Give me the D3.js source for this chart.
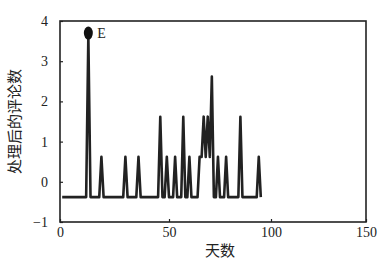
<!DOCTYPE html>
<html>
<head>
<meta charset="utf-8">
<script src="https://cdnjs.cloudflare.com/ajax/libs/d3/7.8.5/d3.min.js"></script>
<style>
	body { margin: 0; background: #fff; }
	text { font-family: "Liberation Serif", "DejaVu Serif", serif; fill: #222; }
	.cjk { font-family: "Noto Sans CJK SC", sans-serif; }
</style>
</head>
<body>
<div id="chart"></div>
<script>
// days 1..95, processed comment counts
var days = d3.range(1, 96);
var counts = [
	-0.38, -0.38, -0.38, -0.38, -0.38, -0.38, -0.38, -0.38, -0.38, -0.38, // 1-10
	-0.38, -0.38, 3.62, -0.38, -0.38, -0.38, -0.38, -0.38, 0.62, -0.38,   // 11-20
	-0.38, -0.38, -0.38, -0.38, -0.38, -0.38, -0.38, -0.38, -0.38, 0.62,  // 21-30
	-0.38, -0.38, -0.38, -0.38, -0.38, 0.62, -0.38, -0.38, -0.38, -0.38,  // 31-40
	-0.38, -0.38, -0.38, -0.38, -0.38, 1.62, -0.38, -0.38, 0.62, -0.38,   // 41-50
	-0.38, -0.38, 0.62, -0.38, -0.38, -0.38, 1.62, -0.38, -0.38, 0.62,    // 51-60
	-0.38, -0.38, -0.38, -0.38, 0.62, 0.62, 1.62, 0.62, 1.62, 0.62,       // 61-70
	2.62, -0.38, -0.38, 0.62, -0.38, -0.38, -0.38, 0.62, -0.38, -0.38,    // 71-80
	-0.38, -0.38, -0.38, -0.38, 1.62, -0.38, -0.38, -0.38, -0.38, -0.38,  // 81-90
	-0.38, -0.38, -0.38, 0.62, -0.38                                      // 91-95
];
var xTicks = [0, 50, 100, 150];
var yTicks = [-1, 0, 1, 2, 3, 4];
var markDay = 13, markValue = 3.7, markLabel = "E";

var W = 392, H = 263;
var svg = d3.select("#chart").append("svg")
	.attr("width", W)
	.attr("height", H);

// the printed x axis is slightly uneven, so pin each tick to where it sits
var x = d3.scaleLinear().domain([0, 50, 100, 150]).range([60, 169, 271, 366]);
var y = d3.scaleLinear().domain([-1, 4]).range([222, 21]);

var xAxis = svg.append("g")
	.attr("transform", "translate(0," + y(-1) + ")")
	.call(d3.axisBottom(x).tickValues(xTicks).tickSize(-3).tickPadding(5).tickFormat(d3.format("d")));
var yAxis = svg.append("g")
	.attr("transform", "translate(" + x(0) + ",0)")
	.call(d3.axisLeft(y).tickValues(yTicks).tickSize(-3).tickPadding(12).tickFormat(function(d) { return d < 0 ? "\u2212" + Math.abs(d) : d; }));

[xAxis, yAxis].forEach(function(a) {
	a.select(".domain").remove();
	a.selectAll(".tick line").attr("stroke", "#222").attr("stroke-width", 1.2);
	a.selectAll("text").style("font-size", "14px")
		.style("font-family", "'Liberation Serif', serif").attr("fill", "#222");
});

// frame
svg.append("rect")
	.attr("x", x(0)).attr("y", y(4))
	.attr("width", x(150) - x(0)).attr("height", y(-1) - y(4))
	.attr("fill", "none").attr("stroke", "#222").attr("stroke-width", 1.6);

var line = d3.line()
	.x(function(d, i) { return x(days[i]); })
	.y(function(d) { return y(d); });

svg.append("path")
	.datum(counts)
	.attr("d", line)
	.attr("fill", "none")
	.attr("stroke", "#222")
	.attr("stroke-width", 2.6)
	.attr("stroke-linejoin", "round");

svg.append("ellipse")
	.attr("cx", x(markDay)).attr("cy", y(markValue))
	.attr("rx", 4.5).attr("ry", 6.5)
	.attr("fill", "#111");
svg.append("text")
	.attr("x", x(markDay) + 9).attr("y", y(markValue) + 5)
	.style("font-size", "14px")
	.text(markLabel);

// axis titles
svg.append("text")
	.attr("class", "cjk")
	.attr("transform", "translate(20," + ((y(4) + y(-1)) / 2) + ") rotate(-90)")
	.attr("text-anchor", "middle")
	.style("font-size", "15px")
	.text("处理后的评论数");
svg.append("text")
	.attr("class", "cjk")
	.attr("x", 220).attr("y", 256)
	.attr("text-anchor", "middle")
	.style("font-size", "15px")
	.text("天数");
</script>
</body>
</html>
